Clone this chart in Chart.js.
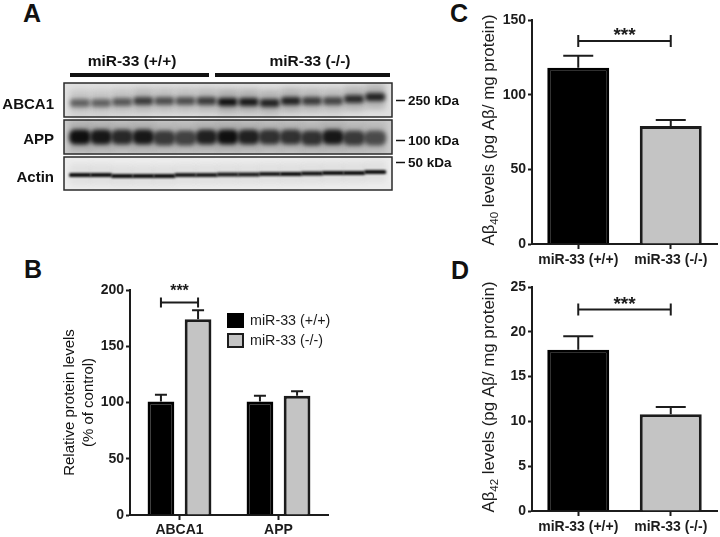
<!DOCTYPE html>
<html>
<head>
<meta charset="utf-8">
<script src="https://cdn.jsdelivr.net/npm/chart.js@4"></script>
<style>
  html, body { margin: 0; padding: 0; background: #fff; }
  #page { position: relative; width: 720px; height: 537px; overflow: hidden; }
  canvas { position: absolute; filter: blur(0.35px); }
  .letter { position: absolute; font: bold 25px "Liberation Sans", Arial, sans-serif; color: #111; line-height: 25px; }
</style>
</head>
<body>
<div id="page">
  <div class="letter" style="left:23px;top:1px">A</div>
  <div class="letter" style="left:24px;top:257px">B</div>
  <div class="letter" style="left:450px;top:1px">C</div>
  <div class="letter" style="left:451px;top:258px">D</div>
  <canvas id="blot" width="460" height="150" style="left:0;top:50px"></canvas>
  <canvas id="chartB" width="275" height="267" style="left:55px;top:270px"></canvas>
  <canvas id="chartC" width="250" height="270" style="left:470px;top:0"></canvas>
  <canvas id="chartD" width="250" height="267" style="left:470px;top:270px"></canvas>
</div>
<script>
const genotypes = ['miR-33 (+/+)', 'miR-33 (-/-)'];
const proteins = ['ABCA1', 'APP'];

// panel B
const wildB = [101, 101];
const wildBErr = [107, 106];
const koB = [174, 106];
const koBErr = [182, 110];
const ticksB = [0, 50, 100, 150, 200];

// panel C
const valuesC = [118, 79];
const errC = [126, 83];
const ticksC = [0, 50, 100, 150];

// panel D
const valuesD = [18, 10.8];
const errD = [19.5, 11.6];
const ticksD = [0, 5, 10, 15, 20, 25];

// panel A, 15 lanes. pos is distance down the gel, dark is band darkness
const lanes = [1, 2, 3, 4, 5, 6, 7, 8, 9, 10, 11, 12, 13, 14, 15];
const abca1Pos = [20, 20, 19, 18, 18, 18, 18, 19, 19, 20, 18, 18, 18, 16, 14];
const abca1Dark = [.55, .55, .6, .75, .65, .65, .75, 1, .95, .9, .9, .75, .7, .85, .9];
const appPos = [54, 54, 54, 54, 55, 55, 54, 54, 54, 54, 54, 55, 54, 55, 55];
const appDark = [1, .95, .85, .95, .75, .7, .9, 1, .9, .8, .8, .8, .95, .75, .65];
const actinPos = [92, 92, 93, 93, 93, 92, 92, 91.5, 91.5, 91, 91, 90.5, 90, 90, 89];
const actinDark = [1, 1, 1, 1, 1, .95, .95, .95, .95, .95, 1, 1, 1, 1, 1];
const rowLabels = ['ABCA1', 'APP', 'Actin'];
const kdaLabels = ['250 kDa', '100 kDa', '50 kDa'];

const ink = '#1c1c1c';
const grey = '#c4c4c4';
const sans = '"Liberation Sans", Arial, sans-serif';

// whiskers, significance bracket and stars for the bar panels
const barExtras = {
  id: 'barExtras',
  afterDatasetsDraw(chart, args, opts) {
    const { ctx, scales: { y } } = chart;
    ctx.save();
    ctx.strokeStyle = ink;
    ctx.lineWidth = 2;
    ctx.lineCap = 'butt';
    opts.errors.forEach((tops, ds) => {
      chart.getDatasetMeta(ds).data.forEach((bar, i) => {
        const top = y.getPixelForValue(tops[i]);
        ctx.beginPath();
        ctx.moveTo(bar.x, y.getPixelForValue(chart.data.datasets[ds].data[i]));
        ctx.lineTo(bar.x, top);
        ctx.moveTo(bar.x - opts.cap, top);
        ctx.lineTo(bar.x + opts.cap, top);
        ctx.stroke();
      });
    });
    const a = chart.getDatasetMeta(opts.bracket.from[0]).data[opts.bracket.from[1]].x;
    const b = chart.getDatasetMeta(opts.bracket.to[0]).data[opts.bracket.to[1]].x;
    const by = y.getPixelForValue(opts.bracket.value);
    ctx.beginPath();
    ctx.moveTo(a, by); ctx.lineTo(b, by);
    ctx.moveTo(a, by - opts.bracket.tip); ctx.lineTo(a, by + opts.bracket.tip);
    ctx.moveTo(b, by - opts.bracket.tip); ctx.lineTo(b, by + opts.bracket.tip);
    ctx.stroke();
    ctx.fillStyle = ink;
    ctx.font = 'bold ' + opts.bracket.starSize + 'px ' + sans;
    ctx.textAlign = 'center';
    ctx.textBaseline = 'middle';
    ctx.fillText('***', (a + b) / 2, by + opts.bracket.starShift);
    ctx.restore();
  }
};

// y title with a real subscript, the axis title option can't do that
const subTitle = {
  id: 'subTitle',
  afterDraw(chart, args, opts) {
    const { ctx, chartArea } = chart;
    const big = '16.9px ' + sans;
    const small = '11.5px ' + sans;
    ctx.save();
    ctx.fillStyle = ink;
    ctx.textBaseline = 'alphabetic';
    ctx.textAlign = 'left';
    ctx.font = big;
    const w1 = ctx.measureText(opts.head).width;
    const w3 = ctx.measureText(opts.tail).width;
    ctx.font = small;
    const w2 = ctx.measureText(opts.sub).width;
    ctx.translate(23.5, (chartArea.top + chartArea.bottom) / 2 - 2);
    ctx.rotate(-Math.PI / 2);
    let x = -(w1 + w2 + w3) / 2;
    ctx.font = big;
    ctx.fillText(opts.head, x, 0);
    x += w1;
    ctx.font = small;
    ctx.fillText(opts.sub, x, 4);
    x += w2;
    ctx.font = big;
    ctx.fillText(opts.tail, x, 0);
    ctx.restore();
  }
};

const legendB = {
  id: 'legendB',
  afterDraw(chart) {
    const { ctx } = chart;
    ctx.save();
    chart.data.datasets.forEach((ds, i) => {
      const top = 44 + i * 20;
      ctx.fillStyle = ds.backgroundColor;
      ctx.strokeStyle = ds.borderColor;
      ctx.lineWidth = 2;
      ctx.fillRect(173, top, 15, 13);
      ctx.strokeRect(173, top, 15, 13);
      ctx.fillStyle = ink;
      ctx.font = '14.3px ' + sans;
      ctx.textBaseline = 'middle';
      ctx.fillText(ds.label, 195, top + 7);
    });
    ctx.restore();
  }
};

function barOptions(opts) {
  return {
    responsive: false,
    animation: false,
    layout: { padding: { top: opts.top, right: opts.right, left: 0, bottom: 0 } },
    plugins: {
      legend: { display: false },
      tooltip: { enabled: false },
      barExtras: opts.extras,
      subTitle: opts.subTitle
    },
    scales: {
      x: {
        grid: { offset: false, drawOnChartArea: false, drawTicks: true, tickLength: 5, tickWidth: 2, tickColor: ink },
        border: { color: ink, width: 2 },
        ticks: { color: ink, font: { family: sans, size: 14, weight: 'bold' }, maxRotation: 0, autoSkip: false, padding: opts.xPad },
        afterFit(s) { s.height = opts.xHeight; }
      },
      y: {
        min: opts.ticks[0],
        max: opts.ticks[opts.ticks.length - 1],
        afterBuildTicks(s) { s.ticks = opts.ticks.map(v => ({ value: v })); },
        grid: { drawOnChartArea: false, drawTicks: true, tickLength: 4, tickWidth: 2, tickColor: ink },
        border: { color: ink, width: 2 },
        ticks: { color: ink, font: { family: sans, size: 14, weight: 'bold' }, padding: 2 },
        title: opts.title ? {
          display: true,
          text: opts.title,
          color: '#111',
          font: { family: sans, size: 15, weight: 'normal', lineHeight: 1.3 },
          padding: { top: 5, bottom: 0 }
        } : { display: false },
        afterFit(s) { s.width = opts.yWidth; }
      }
    }
  };
}

new Chart(document.getElementById('chartB'), {
  type: 'bar',
  data: {
    labels: proteins,
    datasets: [
      { label: genotypes[0], data: wildB, backgroundColor: '#000', borderColor: '#000', borderWidth: 3, categoryPercentage: 0.75, barPercentage: 0.72 },
      { label: genotypes[1], data: koB, backgroundColor: grey, borderColor: ink, borderWidth: 3, categoryPercentage: 0.75, barPercentage: 0.72 }
    ]
  },
  options: barOptions({
    top: 20, right: 2, xHeight: 22, yWidth: 75, xPad: 2, ticks: ticksB,
    title: ['Relative protein levels', '(% of control)'],
    extras: { errors: [wildBErr, koBErr], cap: 6, bracket: { from: [0, 0], to: [1, 0], value: 189, tip: 5, starSize: 16, starShift: -10.5 } }
  }),
  plugins: [barExtras, legendB]
});

function singleGroup(id, values, errs, ticks, sub, top, bracketValue) {
  new Chart(document.getElementById(id), {
    type: 'bar',
    data: {
      labels: genotypes,
      datasets: [{ data: values, backgroundColor: ['#000', grey], borderColor: ['#000', ink], borderWidth: 3, categoryPercentage: 1, barPercentage: 0.67 }]
    },
    options: barOptions({
      top: top, right: 3, xHeight: 26, yWidth: 62, xPad: 3, ticks: ticks,
      subTitle: { head: 'Aβ', sub: sub, tail: ' levels (pg Aβ/ mg protein)' },
      extras: { errors: [errs], cap: 15, bracket: { from: [0, 0], to: [0, 1], value: bracketValue, tip: 6, starSize: 19, starShift: -5 } }
    }),
    plugins: [barExtras, subTitle]
  });
}
singleGroup('chartC', valuesC, errC, ticksC, '40', 20, 136);
singleGroup('chartD', valuesD, errD, ticksD, '42', 17, 22.5);

// soft band sprite used as the point style of the blot
function bandSprite(w, h, dark, smear, blur) {
  const c = document.createElement('canvas');
  c.width = w + 16;
  c.height = h + 36;
  const g = c.getContext('2d');
  const cy = c.height / 2;
  if (smear) {
    g.filter = 'blur(3px)';
    g.fillStyle = 'rgba(60,60,60,' + (smear * dark) + ')';
    g.fillRect(8, cy - h / 2 - 9, w, h + 17);
  }
  g.filter = 'blur(' + blur + 'px)';
  g.fillStyle = 'rgba(15,15,15,' + dark + ')';
  g.beginPath();
  g.roundRect(8, cy - h / 2, w, h, h / 2.5);
  g.fill();
  return c;
}

function laneData(pos) {
  return lanes.map((l, i) => ({ x: l, y: pos[i] }));
}

const blotFrames = {
  id: 'blotFrames',
  beforeDatasetsDraw(chart) {
    const { ctx, scales: { x, y } } = chart;
    const rows = [[0, 34, '#e0e0e0'], [37, 71, '#cccccc'], [74, 107, '#ededed']];
    ctx.save();
    rows.forEach(r => {
      ctx.fillStyle = r[2];
      ctx.fillRect(x.left, y.getPixelForValue(r[0]), x.width, y.getPixelForValue(r[1]) - y.getPixelForValue(r[0]));
    });
    ctx.restore();
  },
  afterDatasetsDraw(chart) {
    const { ctx, scales: { x, y } } = chart;
    const rows = [[0, 34], [37, 71], [74, 107]];
    ctx.save();
    ctx.strokeStyle = '#2a2a2a';
    ctx.lineWidth = 1.5;
    rows.forEach(r => {
      ctx.strokeRect(x.left, y.getPixelForValue(r[0]), x.width, y.getPixelForValue(r[1]) - y.getPixelForValue(r[0]));
    });
    // group bars over the lanes
    ctx.fillStyle = '#111';
    ctx.fillRect(70, 23, 139, 4);
    ctx.fillRect(215, 23, 175, 4);
    ctx.textBaseline = 'middle';
    ctx.font = 'bold 15.5px ' + sans;
    ctx.textAlign = 'center';
    ctx.fillText(genotypes[0], 132, 12);
    ctx.fillText(genotypes[1], 310, 12);
    ctx.font = 'bold 15px ' + sans;
    ctx.textAlign = 'right';
    [54.5, 90, 127.5].forEach((ty, i) => ctx.fillText(rowLabels[i], 54, ty));
    ctx.font = 'bold 13.5px ' + sans;
    ctx.textAlign = 'left';
    ctx.lineWidth = 1.5;
    ctx.strokeStyle = '#111';
    [50, 90, 112].forEach((ty, i) => {
      ctx.beginPath();
      ctx.moveTo(396, ty + 0.5);
      ctx.lineTo(405, ty + 0.5);
      ctx.stroke();
      ctx.fillText(kdaLabels[i], 408, ty + 1);
    });
    ctx.restore();
  }
};

new Chart(document.getElementById('blot'), {
  type: 'scatter',
  data: {
    datasets: [
      { data: laneData(abca1Pos), pointRadius: 5, pointStyle: c => bandSprite(20, 8, abca1Dark[c.dataIndex], 0.3, 2) },
      { data: laneData(appPos), pointRadius: 5, pointStyle: c => bandSprite(22, 15, appDark[c.dataIndex], 0.2, 2) },
      { data: laneData(actinPos), pointRadius: 5, pointStyle: c => bandSprite(22, 4, actinDark[c.dataIndex], 0.07, 0.9) }
    ]
  },
  options: {
    responsive: false,
    animation: false,
    layout: { padding: { top: 33, left: 64, right: 68, bottom: 10 } },
    plugins: { legend: { display: false }, tooltip: { enabled: false } },
    scales: {
      x: { display: false, min: 0.24, max: 15.8 },
      y: { display: false, reverse: true, min: 0, max: 107 }
    }
  },
  plugins: [blotFrames]
});
</script>
</body>
</html>
